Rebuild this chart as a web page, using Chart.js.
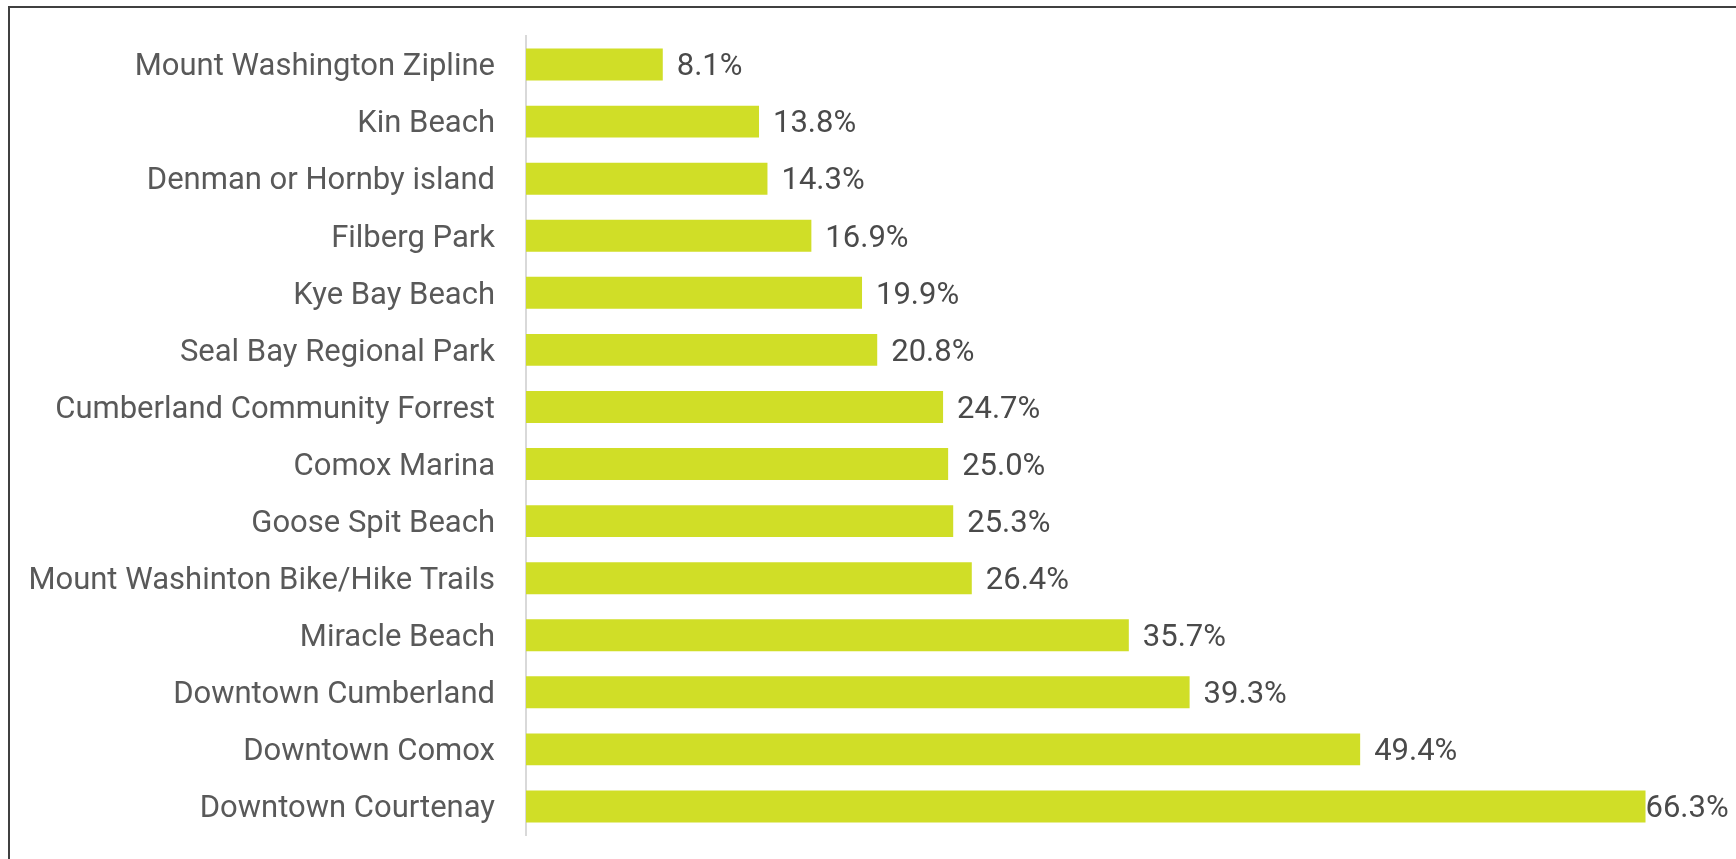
<!DOCTYPE html>
<html>
<head>
    <title>Places visited</title>
    <script src="https://cdn.jsdelivr.net/npm/chart.js@4.4.1/dist/chart.umd.min.js"></script>
    <style>
        body {
            margin: 0;
            background: #fff;
            width: 1736px;
            height: 859px;
            overflow: hidden;
            position: relative;
        }
        .frame {
            position: absolute;
            left: 8px;
            top: 6px;
            right: -10px;
            bottom: -10px;
            border-left: 2px solid #404040;
            border-top: 2px solid #404040;
        }
        .chart-container {
            position: absolute;
            left: 0;
            top: 0;
            width: 1736px;
            height: 859px;
        }
    </style>
</head>
<body>
    <div class="frame"></div>
    <div class="chart-container">
        <canvas id="placesChart"></canvas>
    </div>

    <script>
        const places = [
            'Mount Washington Zipline',
            'Kin Beach',
            'Denman or Hornby island',
            'Filberg Park',
            'Kye Bay Beach',
            'Seal Bay Regional Park',
            'Cumberland Community Forrest',
            'Comox Marina',
            'Goose Spit Beach',
            'Mount Washinton Bike/Hike Trails',
            'Miracle Beach',
            'Downtown Cumberland',
            'Downtown Comox',
            'Downtown Courtenay'
        ];
        const percentVisited = [8.1, 13.8, 14.3, 16.9, 19.9, 20.8, 24.7, 25.0, 25.3, 26.4, 35.7, 39.3, 49.4, 66.3];

        const FONT = 'Roboto, sans-serif';
        const FONT_SIZE = 31;

        // value labels at the end of each bar, kept inside the canvas
        const barLabels = {
            id: 'barLabels',
            afterDatasetsDraw: function(chart) {
                const ctx = chart.ctx;
                const meta = chart.getDatasetMeta(0);
                ctx.save();
                ctx.font = FONT_SIZE + 'px ' + FONT;
                ctx.fillStyle = '#4a4a4a';
                ctx.textBaseline = 'middle';
                ctx.textAlign = 'left';
                meta.data.forEach(function(bar, i) {
                    const text = percentVisited[i].toFixed(1) + '%';
                    const w = ctx.measureText(text).width;
                    let x = bar.x + 14;
                    if (x + w > chart.width - 8) {
                        x = Math.max(bar.x, chart.width - 8 - w);
                    }
                    ctx.fillText(text, x, bar.y + 3);
                });
                ctx.restore();
            }
        };

        function initChart() {
            const ctx = document.getElementById('placesChart').getContext('2d');
            new Chart(ctx, {
                type: 'bar',
                data: {
                    labels: places,
                    datasets: [{
                        data: percentVisited,
                        backgroundColor: '#d0de27',
                        borderWidth: 0,
                        categoryPercentage: 0.8,
                        barPercentage: 0.7
                    }]
                },
                options: {
                    indexAxis: 'y',
                    responsive: true,
                    maintainAspectRatio: false,
                    animation: false,
                    layout: {
                        padding: { left: 0, right: 28, top: 36, bottom: 24 }
                    },
                    plugins: {
                        legend: { display: false },
                        tooltip: { enabled: false }
                    },
                    scales: {
                        x: {
                            display: false,
                            min: 0,
                            max: 70
                        },
                        y: {
                            afterFit: function(scale) {
                                scale.width = 526;
                            },
                            grid: { display: false, drawTicks: true, tickLength: 31 },
                            border: { display: true, color: '#d9d9d9', width: 2 },
                            ticks: {
                                padding: 0,
                                labelOffset: 3,
                                color: '#595959',
                                font: { family: FONT, size: FONT_SIZE }
                            }
                        }
                    }
                },
                plugins: [barLabels]
            });
        }

        document.addEventListener('DOMContentLoaded', initChart);
    </script>
</body>
</html>
